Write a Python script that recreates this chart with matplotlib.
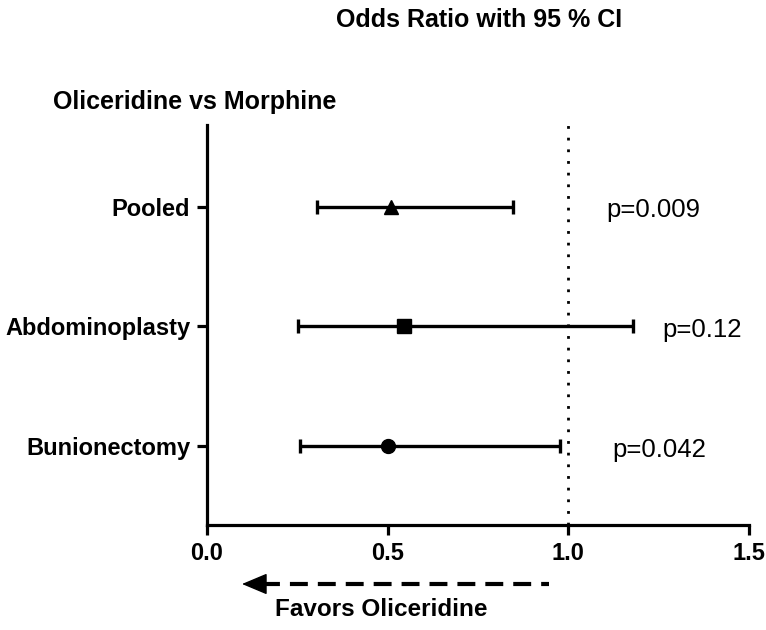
import numpy as np
import matplotlib.pyplot as plt

plt.rcParams['font.family'] = ['Liberation Sans', 'DejaVu Sans']

# data
groups = ['Pooled', 'Abdominoplasty', 'Bunionectomy']
odds = [0.51, 0.546, 0.50]
ci_low = [0.305, 0.251, 0.258]
ci_high = [0.847, 1.178, 0.978]
p_text = ['p=0.009', 'p=0.12', 'p=0.042']
p_xpos = [1.105, 1.26, 1.122]
markers = ['^', 's', 'o']
xticks = [0.0, 0.5, 1.0, 1.5]

fig = plt.figure(figsize=(7.66, 6.3), dpi=100)
ax = fig.add_axes([207/766, 1 - 525/630, (749 - 207)/766, (525 - 125)/630])

ypos = [3, 2, 1]
for y, m, lo, hi, mk in zip(ypos, odds, ci_low, ci_high, markers):
    ax.errorbar([m], [y], xerr=[[m - lo], [hi - m]], fmt=mk, color='black',
                ms=10, elinewidth=2.4, capsize=5, capthick=2.4, zorder=3)

for y, t, px in zip(ypos, p_text, p_xpos):
    ax.text(px, y - 0.03, t, fontsize=18.5, va='center', ha='left')

ax.axvline(1.0, color='black', lw=2, ls=(0, (1, 3.2)), zorder=1)

ax.set_xlim(0, 1.5)
ax.set_ylim(0.342, 3.683)
ax.set_xticks(xticks)
ax.set_xticklabels(['%.1f' % v for v in xticks], fontsize=17, fontweight='bold')
ax.set_yticks(ypos)
ax.set_yticklabels(groups, fontsize=17, fontweight='bold')
for s in ['top', 'right']:
    ax.spines[s].set_visible(False)
for s in ['left', 'bottom']:
    ax.spines[s].set_linewidth(2.3)
ax.tick_params(width=2.3, length=7, pad=5)

fig.text(479/766, 1 - 20/630, 'Odds Ratio with 95 % CI', fontsize=18,
         fontweight='bold', ha='center', va='center')
fig.text(53/766, 1 - 102/630, 'Oliceridine vs Morphine', fontsize=18,
         fontweight='bold', ha='left', va='center')

# favors arrow: dashed shaft + solid head
ay = 1 - 584/630
fig.add_artist(plt.Line2D([262/766, 549/766], [ay, ay], color='black', lw=3,
                          ls=(0, (4.3, 2.4))))
ax.annotate('', xy=(242/766, ay), xytext=(266/766, ay), xycoords='figure fraction',
            arrowprops=dict(arrowstyle='-|>,head_length=1.0,head_width=0.42',
                            color='black', lw=1, mutation_scale=16,
                            shrinkA=0, shrinkB=0))
fig.text(275/766, 1 - 610/630, 'Favors Oliceridine', fontsize=17.5,
         fontweight='bold', ha='left', va='center')

fig.savefig('out.png', dpi=100)
